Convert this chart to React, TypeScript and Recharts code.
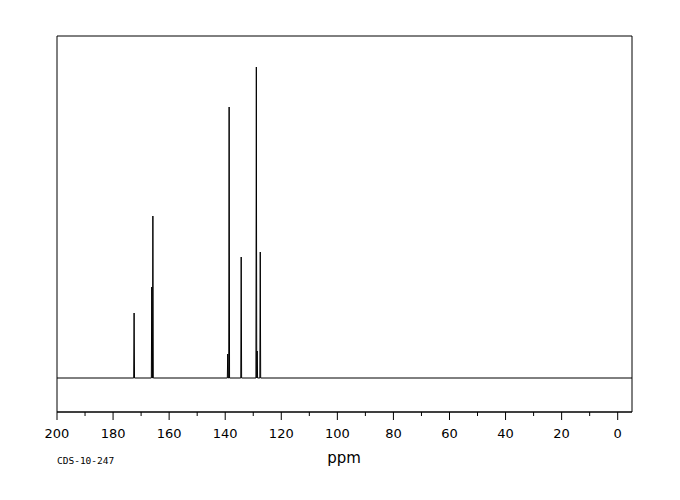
import { LineChart, Line, XAxis, YAxis, ReferenceArea } from "recharts";

// 13C shifts (ppm) and peak heights
const peakShift = [172.5, 166.2, 165.8, 139.1, 138.6, 134.3, 128.9, 128.6, 127.5];
const peakHeight = [65, 91, 162, 24, 271, 121, 311, 27, 126];

const majorTicks = [200, 180, 160, 140, 120, 100, 80, 60, 40, 20, 0];
const minorTicks = [190, 170, 150, 130, 110, 90, 70, 50, 30, 10];

const xMin = -5.1;
const xMax = 200;

// trace: baseline, then each peak as a narrow spike
const trace: { ppm: number; y: number }[] = [{ ppm: xMax, y: 0 }];
peakShift.forEach((p, i) => {
  trace.push({ ppm: p + 0.15, y: 0 });
  trace.push({ ppm: p, y: peakHeight[i] });
  trace.push({ ppm: p - 0.15, y: 0 });
});
trace.push({ ppm: xMin, y: 0 });
trace.sort((a, b) => b.ppm - a.ppm);

const allTicks = [...majorTicks, ...minorTicks].sort((a, b) => b - a);

function Tick(props: any) {
  const { x, y, payload } = props;
  const major = majorTicks.includes(payload.value);
  return (
    <g>
      <line x1={x} x2={x} y1={y} y2={y + (major ? 8 : 4)} stroke="#000" strokeWidth={1} />
      {major && (
        <text x={x} y={y + 26} textAnchor="middle" fontSize={13} fontFamily="DejaVu Sans" fill="#000">
          {payload.value}
        </text>
      )}
    </g>
  );
}

export default function App() {
  return (
    <div style={{ position: "absolute", left: 0, top: 0, width: 680, height: 500, background: "#fff" }}>
      <LineChart
        width={680}
        height={500}
        data={trace}
        margin={{ top: 36, right: 48, bottom: 28, left: 57 }}
      >
        <XAxis
          type="number"
          dataKey="ppm"
          domain={[xMin, xMax]}
          reversed
          allowDataOverflow
          ticks={allTicks}
          interval={0}
          tickLine={false}
          tickSize={0}
          tickMargin={0}
          tick={<Tick />}
          axisLine={{ stroke: "#000" }}
          height={60}
        />
        <YAxis hide domain={[-34, 342]} allowDataOverflow />
        <ReferenceArea
          x1={xMax}
          x2={xMin}
          y1={-34}
          y2={342}
          fill="none"
          stroke="#000"
          strokeWidth={1}
          fillOpacity={0}
        />
        <Line
          type="linear"
          dataKey="y"
          stroke="#000"
          strokeWidth={1}
          dot={false}
          isAnimationActive={false}
        />
      </LineChart>
      <div
        style={{
          position: "absolute",
          left: 57,
          top: 455,
          fontFamily: "DejaVu Sans Mono",
          fontSize: 9.5,
          lineHeight: "12px",
        }}
      >
        CDS-10-247
      </div>
      <div
        style={{
          position: "absolute",
          left: 294,
          width: 100,
          textAlign: "center",
          top: 449,
          fontFamily: "DejaVu Sans",
          fontSize: 15,
          lineHeight: "18px",
        }}
      >
        ppm
      </div>
    </div>
  );
}
